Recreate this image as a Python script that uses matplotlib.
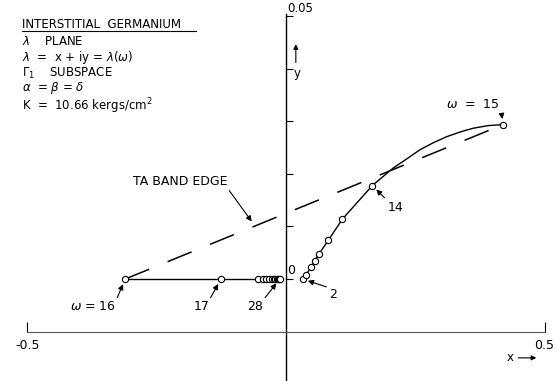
import matplotlib
matplotlib.use("Agg")
import matplotlib.pyplot as plt

plt.rcParams['font.family'] = ['DejaVu Sans']
plt.rcParams['mathtext.fontset'] = 'dejavusans'

# left (real axis) branch, omega = 16, 17, 18 ... 28
left_x = [-0.311, -0.126, -0.055, -0.045, -0.038, -0.033, -0.028,
          -0.024, -0.021, -0.018, -0.016, -0.014, -0.012]
left_y = [0.0] * len(left_x)

# right branch, omega = 2 ... 14 (marked points)
right_x = [0.032, 0.038, 0.048, 0.0555, 0.064, 0.082, 0.109, 0.167]
right_y = [0.0, 0.0007, 0.0022, 0.0034, 0.0048, 0.0074, 0.0114, 0.0178]

# smooth part of the curve from omega = 14 to omega = 15
curve_x = [0.167, 0.207, 0.234, 0.259, 0.284, 0.311, 0.337, 0.362, 0.391, 0.420]
curve_y = [0.0178, 0.0211, 0.0229, 0.0246, 0.0259, 0.0271, 0.0280, 0.0287,
           0.0292, 0.0294]

w15 = (0.420, 0.0294)
w16 = (-0.311, 0.0)

info_lines = ["INTERSTITIAL  GERMANIUM",
              r"$\lambda$    PLANE",
              r"$\lambda$  =  x + iy = $\lambda(\omega)$",
              r"$\Gamma_1$    SUBSPACE",
              r"$\alpha$  = $\beta$ = $\delta$",
              r"K  =  10.66 kergs/cm$^2$"]
info_rows = [0.937, 0.890, 0.850, 0.806, 0.769, 0.722]

fig = plt.figure(figsize=(5.57, 3.81), dpi=100)
ax = fig.add_axes([0, 0, 1, 1])
ax.set_xlim(-0.553, 0.524)
ax.set_ylim(-0.0194, 0.0531)

# cross-shaped axes
for s in ('top', 'right'):
    ax.spines[s].set_visible(False)
ax.spines['left'].set_position(('data', 0))
ax.spines['bottom'].set_position(('data', -0.01))
ax.spines['left'].set_bounds(-0.0194, 0.0505)
ax.spines['bottom'].set_bounds(-0.5, 0.5)
ax.spines['left'].set_linewidth(1.0)
ax.spines['bottom'].set_linewidth(0.8)
ax.spines['bottom'].set_color('#555555')
ax.set_xticks([-0.5, 0.5])
ax.set_yticks([0, 0.01, 0.02, 0.03, 0.04, 0.05])
ax.set_xticklabels([])
ax.set_yticklabels([])
ax.tick_params(axis='x', direction='in', length=7, width=0.8)
ax.tick_params(axis='y', direction='in', length=5, width=0.8)

ax.text(-0.5, -0.0115, "-0.5", ha='center', va='top', fontsize=9)
ax.text(0.5, -0.0115, "0.5", ha='center', va='top', fontsize=9)
ax.text(0.003, 0.0004, "0", ha='left', va='bottom', fontsize=9)
ax.text(0.003, 0.0502, "0.05", ha='left', va='bottom', fontsize=8.5)
ax.text(0.021, 0.0392, "y", ha='center', va='center', fontsize=8.5)
ax.annotate("", xy=(0.019, 0.0447), xytext=(0.019, 0.0412),
            arrowprops=dict(arrowstyle='-|>', lw=0.8, color='k',
                            mutation_scale=7, shrinkA=0, shrinkB=0))
ax.text(0.433, -0.0150, "x", ha='center', va='center', fontsize=8.5)
ax.annotate("", xy=(0.484, -0.0150), xytext=(0.449, -0.0150),
            arrowprops=dict(arrowstyle='-|>', lw=0.8, color='k',
                            mutation_scale=7, shrinkA=0, shrinkB=0))

# TA band edge
ax.plot([w16[0], w15[0]], [w16[1], w15[1]], color='k', lw=1.1,
        dashes=(17, 13))

mk = dict(marker='o', ms=4.5, mfc='white', mec='k', mew=0.8)
ax.plot(left_x, left_y, color='k', lw=1.0, **mk, zorder=3)
ax.plot(curve_x, curve_y, color='k', lw=1.0, zorder=3)
ax.plot(right_x, right_y, color='k', lw=1.0, **mk, zorder=4)
ax.plot([w15[0]], [w15[1]], color='k', lw=0, **mk, zorder=4)

arr = dict(arrowstyle='-|>', lw=0.8, color='k', mutation_scale=8,
           shrinkA=0, shrinkB=4)


def note(txt, xy, xytext, relpos):
    ax.annotate(txt, xy=xy, xytext=xytext, ha='center', va='center',
                fontsize=9, arrowprops=dict(arr, relpos=relpos))


note(r"$\omega$ = 16", (left_x[0], left_y[0]), (-0.373, -0.0053), (1, 1))
note("17", (left_x[1], left_y[1]), (-0.164, -0.0053), (1, 1))
note("28", (left_x[-1], left_y[-1]), (-0.060, -0.0053), (1, 1))
note("2", (right_x[0], right_y[0]), (0.091, -0.0029), (0, 1))
note("14", (right_x[-1], right_y[-1]), (0.211, 0.0137), (0, 1))
note(r"$\omega$  =  15", w15, (0.362, 0.0333), (1, 0.5))
note("TA BAND EDGE", (-0.060, 0.0101), (-0.205, 0.0186), (1, 0))

for line, row in zip(info_lines, info_rows):
    ax.text(0.040, row, line, transform=ax.transAxes, ha='left',
            va='center', fontsize=8.5)
ax.plot([0.0395, 0.352], [0.919, 0.919], transform=ax.transAxes,
        color='k', lw=0.8)

fig.savefig("out.png", dpi=100)
